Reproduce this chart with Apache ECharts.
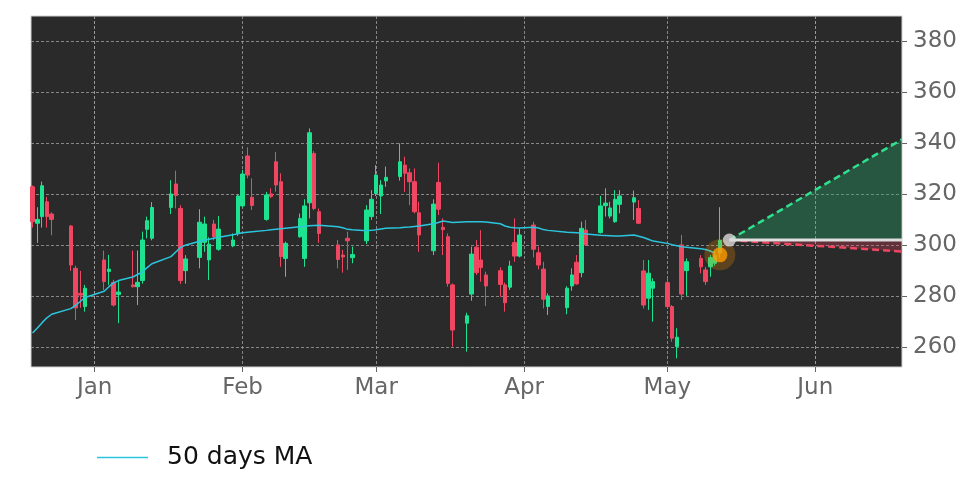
<!DOCTYPE html>
<html><head><meta charset="utf-8">
<script src="https://cdn.jsdelivr.net/npm/echarts@6/dist/echarts.min.js"></script>
<style>html,body{margin:0;padding:0;background:#fff}#c{width:972px;height:486px}</style>
</head><body><div id="c"></div>
<script>
// ---- data ----
const dates = ['2022-12-19','2022-12-20','2022-12-21','2022-12-22','2022-12-23','2022-12-27','2022-12-28','2022-12-29','2022-12-30',
'2023-01-03','2023-01-04','2023-01-05','2023-01-06','2023-01-09','2023-01-10','2023-01-11','2023-01-12','2023-01-13',
'2023-01-17','2023-01-18','2023-01-19','2023-01-20','2023-01-23','2023-01-24','2023-01-25','2023-01-26','2023-01-27',
'2023-01-30','2023-01-31','2023-02-01','2023-02-02','2023-02-03','2023-02-06','2023-02-07','2023-02-08','2023-02-09','2023-02-10',
'2023-02-13','2023-02-14','2023-02-15','2023-02-16','2023-02-17','2023-02-21','2023-02-22','2023-02-23','2023-02-24',
'2023-02-27','2023-02-28','2023-03-01','2023-03-02','2023-03-03','2023-03-06','2023-03-07','2023-03-08','2023-03-09','2023-03-10',
'2023-03-13','2023-03-14','2023-03-15','2023-03-16','2023-03-17','2023-03-20','2023-03-21','2023-03-22','2023-03-23','2023-03-24',
'2023-03-27','2023-03-28','2023-03-29','2023-03-30','2023-03-31','2023-04-03','2023-04-04','2023-04-05','2023-04-06',
'2023-04-10','2023-04-11','2023-04-12','2023-04-13','2023-04-14','2023-04-17','2023-04-18','2023-04-19','2023-04-20','2023-04-21',
'2023-04-24','2023-04-25','2023-04-26','2023-04-27','2023-04-28','2023-05-01','2023-05-02','2023-05-03','2023-05-04','2023-05-05',
'2023-05-08','2023-05-09','2023-05-10','2023-05-11','2023-05-12'];
const openP = [323,308.7,311.3,317.1,312.3,307.6,291,281.2,276,
294.3,289.8,285.5,280.7,284.5,283.8,286.2,306.3,302.8,
314.9,324.1,314.5,290.1,295.3,301.2,294.3,308.4,298.5,
299.8,304.7,315.5,335.1,318.9,310.2,320.2,332.8,325,294.9,
303.4,294.9,316.7,336.1,313.2,300.2,296.2,302.8,295.2,
301.8,311.3,320.4,319.4,325.3,327,331.5,328.5,325,312.8,
297.9,324.7,307.1,303.4,284.5,269.5,280.9,299.3,294.3,288.4,
290.1,284.5,283.6,301.1,295.8,308,297.1,290.7,276,
275.6,284.1,293.4,289.3,306,305,315.6,311.5,309.3,316.1,
317,314.5,290,279.3,283.2,285.4,276,260.3,300.2,290.1,
294.9,290.4,291.6,293,297];
const closeP = [309.3,310.2,323.4,311.3,310.2,292.3,275.5,280.5,283.2,
285.8,290.7,276.6,281.7,283.8,285.5,302.1,309.7,314.9,
320.2,319.6,286.2,294.7,309.1,308.4,300.5,303.4,306.4,
302.1,319.4,328,327.6,315.7,319.8,319.2,323.7,295.6,300.8,
310.6,315.5,344.2,314.5,304.7,294.5,295.5,301.8,296.4,
313.9,318.1,327.6,323.7,326.7,332.8,328.3,325,313.2,304.1,
316.2,314.2,306.2,285.1,266.8,272.4,296.6,289.3,291.3,284.1,
284.7,277.5,291.9,295.8,304.1,298.5,292.3,278.9,280.2,
283.2,288.4,284.9,306.7,300.2,315.5,316.6,314.7,318.1,319.4,
318.7,308.7,276.6,289.1,285.8,276,263.6,264,280.9,293.6,
291.6,285.8,295.2,296,302];
const lowP = [307,301,307,307,304,290,270.7,275.5,274,
282.5,284.5,276,269.5,283.5,276.6,285,302.8,302,
312.3,314.5,284.9,285,291,297.5,286.4,302,297.9,
299.3,303.7,314.9,326.3,313.9,309.7,318.5,321.1,291.6,287.7,
303,291.6,310.6,313.8,301,291,289.3,290.4,293,
300.5,310,319.4,312.3,323,325.4,321,315.8,312.6,297.5,
296.2,311.9,296.2,283.8,260.3,258.3,278.3,288.4,285.8,276.2,
279.9,274,282.5,293.6,295.3,295.3,290.6,275.3,272.7,
273,282.2,284.5,287.5,299.8,304.7,311.3,310.6,308.9,312.6,
310,308.4,275.3,274.7,270.1,275.3,262.2,255.7,278.6,280.2,
289,284.5,287.7,292,295];
const highP = [323.5,315,325,319,313,308,292,290,284.5,
298,296.3,286.5,286.4,298,298,305.4,311.3,317,
325.6,329.3,315.8,296.2,314.2,311.3,303.2,310,311.5,
304.7,320,329.6,338.5,326.3,321,322.4,336.7,328.3,301.5,
312.5,318.1,345.9,337,314.5,302.1,298.2,305.4,299.5,
315.8,321.7,331.5,325.6,330.9,340,334.8,330.2,330.2,317.1,
318.1,332.4,310.6,304.7,285.1,273.6,299.5,302.1,306,289.7,
291.4,285.4,294,310.6,306.7,309.3,299.5,293.6,281.2,
284,291,296.2,309.3,310,319.4,322.4,317.1,321.7,321.7,
321.5,317.8,294.3,294.3,287.1,287,276.6,267.5,304.1,294.9,
296.2,291.6,296.2,298,315];
const ma50 = [265.6,267.6,269.7,271.6,273.0,275.2,276.5,278.0,279.6,
282.0,283.8,285.3,286.2,287.6,288.6,289.6,291.3,292.8,
295.6,297.4,299.2,300.1,301.6,302.0,302.4,302.8,303.2,
304.2,304.6,305.0,305.2,305.4,305.9,306.1,306.3,306.5,306.7,
307.3,307.5,307.7,307.8,307.9,307.3,306.9,306.3,306.1,
305.8,305.9,306.1,306.4,306.7,306.9,307.1,307.2,307.4,307.6,
308.5,309.0,309.6,309.3,309.0,309.3,309.3,309.3,309.3,309.2,
308.5,307.6,307.1,306.9,306.8,307.1,306.8,306.2,305.9,
305.2,305.1,305.0,304.8,304.5,304.0,303.9,303.8,303.7,303.7,
304.1,303.6,303.1,302.4,301.7,300.8,300.3,299.9,299.5,299.3,
298.7,298.4,297.8,296.9];
const yTicks = [260,280,300,320,340,360,380];
const monthTicks = ['2023-01-01','2023-02-01','2023-03-01','2023-04-01','2023-05-01','2023-06-01'];
const monthNames = ['Jan','Feb','Mar','Apr','May','Jun','Jul','Aug','Sep','Oct','Nov','Dec'];
const projStart = '2023-05-14';
const projEnd = '2023-06-19 04:00';
const lastClose = 302.1;
const upperEnd = 341.6;
const lowerEnd = 297.6;
const markerDate = '2023-05-12';
const markerValue = 296.3;
const xMin = '2022-12-18 16:00';
const xMax = '2023-06-19 04:00';
const yMin = 252.3, yMax = 390;

// ---- chart ----
const GREEN = '#1de28f', RED = '#ef4662';
const candles = dates.map((d, i) => [d, openP[i], closeP[i], lowP[i], highP[i]]);
const maData = ma50.map((v, i) => [dates[i], v]);
const monthTs = monthTicks.map(s => echarts.time.parse(s).getTime());
const font = 'DejaVu Sans';

const chart = echarts.init(document.getElementById('c'));
chart.setOption({
  animation: false,
  backgroundColor: '#ffffff',
  grid: { left: 31, right: 70, top: 16, bottom: 119, show: true, backgroundColor: '#2a2a2a', borderColor: '#d0d0d0', borderWidth: 1 },
  legend: {
    data: ['50 days MA'], left: 92, top: 440, itemWidth: 51, itemHeight: 14, icon: 'path://M0,6L51,6L51,7.4L0,7.4Z',
    textStyle: { fontFamily: font, fontSize: 25, color: '#111', padding: [0, 0, 0, 14] }
  },
  xAxis: {
    type: 'time', min: xMin, max: xMax, splitNumber: 6,
    axisLine: { show: false },
    axisTick: { show: true, length: 5, lineStyle: { color: '#666' }, customValues: monthTs },
    axisLabel: {
      margin: 10, fontFamily: font, fontSize: 23, color: '#666', hideOverlap: false,
      formatter: v => { const d = new Date(v); return (d.getDate() === 1 && d.getHours() === 0) ? monthNames[d.getMonth()] : ''; }
    },
    splitLine: { show: true, lineStyle: { color: '#a0a0a0', width: 0.8, type: [3, 2] } }
  },
  yAxis: {
    type: 'value', position: 'right', min: yMin, max: yMax, splitNumber: 7, scale: true,
    axisLine: { show: false },
    axisTick: { show: true, length: 5, lineStyle: { color: '#666' }, customValues: yTicks },
    axisLabel: {
      margin: 11, fontFamily: font, fontSize: 23, color: '#666', customValues: yTicks,
      formatter: v => yTicks.indexOf(v) >= 0 ? String(v) : ''
    },
    splitLine: { show: true, lineStyle: { color: '#a0a0a0', width: 0.8, type: [3, 2] } }
  },
  series: [
    {
      type: 'candlestick', name: 'price', data: candles, barWidth: 4, z: 2,
      itemStyle: { color: GREEN, color0: RED, borderColor: GREEN, borderColor0: RED, borderWidth: 1 }
    },
    {
      type: 'line', name: '50 days MA', data: maData, symbol: 'none', z: 3,
      lineStyle: { color: '#2bc6de', width: 1.5 }, itemStyle: { color: '#2bc6de' }
    },
    {
      type: 'line', name: 'projBase', stack: 'up', data: [[projStart, lastClose], [projEnd, lastClose]],
      symbol: 'none', z: 6, lineStyle: { color: '#dedede', width: 3 }
    },
    {
      type: 'line', name: 'projUp', stack: 'up', data: [[projStart, 0], [projEnd, upperEnd - lastClose]],
      symbol: 'none', z: 4, lineStyle: { color: '#2fe08e', width: 2.5, type: [7, 4] },
      areaStyle: { color: 'rgba(34,168,108,0.5)' }
    },
    {
      type: 'line', name: 'projLow', stack: 'down', data: [[projStart, lastClose], [projEnd, lowerEnd]],
      symbol: 'none', z: 5, lineStyle: { color: RED, width: 2.5, type: [7, 4] }
    },
    {
      type: 'line', name: 'projLowFill', stack: 'down', data: [[projStart, 0], [projEnd, lastClose - lowerEnd]],
      symbol: 'none', z: 4, lineStyle: { width: 0, opacity: 0 },
      areaStyle: { color: 'rgba(239,70,98,0.4)' }
    },
    {
      type: 'scatter', name: 'halo', data: [[markerDate, markerValue]], symbolSize: 31, z: 7,
      itemStyle: { color: 'rgba(255,152,0,0.3)' }
    },
    {
      type: 'scatter', name: 'marker', data: [[markerDate, markerValue]], symbolSize: 15, z: 8,
      itemStyle: { color: '#ff9b00' }
    },
    {
      type: 'scatter', name: 'last', data: [[projStart, lastClose]], symbolSize: 13, z: 8,
      itemStyle: { color: '#d8d8d8' }
    }
  ]
});
</script>
</body></html>
